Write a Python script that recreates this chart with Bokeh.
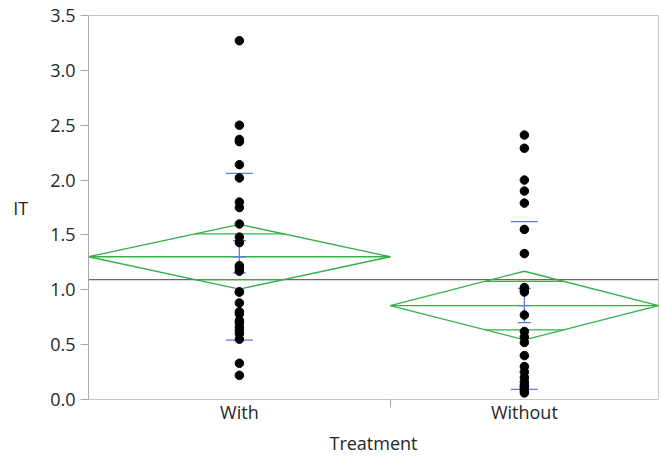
import math

import numpy as np
from bokeh.embed import file_html
from bokeh.models import FixedTicker, PrintfTickFormatter, Range1d
from bokeh.plotting import figure
from bokeh.resources import INLINE

# IT measurements per treatment group
treatments = ["With", "Without"]
it_with = [3.27, 2.50, 2.37, 2.35, 2.14, 2.02, 1.80, 1.75, 1.60, 1.48, 1.43, 1.22, 1.20, 1.17,
           0.98, 0.98, 0.88, 0.80, 0.78, 0.72, 0.70, 0.66, 0.63, 0.60, 0.55, 0.33, 0.22]
it_without = [2.41, 2.29, 2.00, 1.90, 1.79, 1.55, 1.33, 1.02, 1.00, 0.98, 0.77, 0.62, 0.57,
              0.52, 0.40, 0.30, 0.25, 0.20, 0.16, 0.13, 0.12, 0.10, 0.08, 0.06]
y_ticks = [0.0, 0.5, 1.0, 1.5, 2.0, 2.5, 3.0, 3.5]

FONT = "Open Sans"
FONT_SIZE = "18px"
TEXT = "#262626"
GREEN = "#34B04A"
BLUE = "#5B7FCF"
W, H = 662, 457
BORDER = dict(left=88, right=4, top=15, bottom=58)
FRAME_W = W - BORDER["left"] - BORDER["right"]


def t_quantile_975(df):
    """Two-sided 95% Student t critical value (Cornish-Fisher expansion)."""
    z = 1.959964
    g1 = (z**3 + z) / 4
    g2 = (5 * z**5 + 16 * z**3 + 3 * z) / 96
    g3 = (3 * z**7 + 19 * z**5 + 17 * z**3 - 15 * z) / 384
    return z + g1 / df + g2 / df**2 + g3 / df**3


groups = [np.asarray(it_with), np.asarray(it_without)]
counts = np.array([len(g) for g in groups])
total = counts.sum()

# x axis widths proportional to group size
edges = np.concatenate([[0], np.cumsum(counts)]).astype(float)
centers = (edges[:-1] + edges[1:]) / 2

means = np.array([g.mean() for g in groups])
sds = np.array([g.std(ddof=1) for g in groups])
ses = sds / np.sqrt(counts)
df = total - len(groups)
pooled_sd = math.sqrt(sum((n - 1) * s**2 for n, s in zip(counts, sds)) / df)
ci = t_quantile_975(df) * pooled_sd / np.sqrt(counts)
grand_mean = np.concatenate(groups).mean()

px = total / FRAME_W  # data units per screen pixel along x

p = figure(width=W, height=H, x_range=Range1d(0, total), y_range=Range1d(0, 3.5),
           output_backend="svg", toolbar_location=None,
           min_border_left=BORDER["left"], min_border_right=BORDER["right"],
           min_border_top=BORDER["top"], min_border_bottom=BORDER["bottom"],
           background_fill_color="white", border_fill_color="white")
p.outline_line_color = "#C6C6C6"
p.xgrid.visible = False
p.ygrid.visible = False

# grand mean reference line
p.line([0, total], [grand_mean, grand_mean], line_color="#444444", line_width=1)

# means diamonds: mean line, 95% CI diamond, overlap marks
dia_xs, dia_ys = [], []
seg = dict(x0=[], y0=[], x1=[], y1=[])
for lo, hi, c, m, h in zip(edges[:-1], edges[1:], centers, means, ci):
    dia_xs.append([lo, c, hi, c, lo])
    dia_ys.append([m, m + h, m, m - h, m])
    seg["x0"].append(lo); seg["x1"].append(hi); seg["y0"].append(m); seg["y1"].append(m)
    hw = (hi - lo) / 2 * (1 - 1 / math.sqrt(2))
    d = h / math.sqrt(2)
    for yy in (m + d, m - d):
        seg["x0"].append(c - hw); seg["x1"].append(c + hw)
        seg["y0"].append(yy); seg["y1"].append(yy)
p.multi_line(dia_xs, dia_ys, line_color=GREEN, line_width=1.3)
p.segment(line_color=GREEN, line_width=1.3, **seg)

# std dev lines and mean error bars
sd_hw = 13.5 * px
cap_hw = 6.5 * px
blue = dict(x0=[], y0=[], x1=[], y1=[])
for c, m, s, e in zip(centers, means, sds, ses):
    for yy, hw in ((m + s, sd_hw), (m - s, sd_hw), (m + e, cap_hw), (m - e, cap_hw), (m, cap_hw)):
        blue["x0"].append(c - hw); blue["x1"].append(c + hw)
        blue["y0"].append(yy); blue["y1"].append(yy)
    blue["x0"].append(c); blue["x1"].append(c)
    blue["y0"].append(m - e); blue["y1"].append(m + e)
p.segment(line_color=BLUE, line_width=1.3, **blue)

# individual observations
pts_x = np.concatenate([np.full(n, c) for n, c in zip(counts, centers)])
pts_y = np.concatenate(groups)
p.scatter(pts_x, pts_y, size=8.5, fill_color="black", line_color="black")

# axes
p.xaxis.ticker = FixedTicker(ticks=list(centers), minor_ticks=list(edges[1:-1]))
p.xaxis.major_label_overrides = {float(c): name for c, name in zip(centers, treatments)}
p.xaxis.major_tick_out = 0
p.xaxis.major_tick_in = 0
p.xaxis.minor_tick_out = 8
p.xaxis.minor_tick_in = 0
p.xaxis.minor_tick_line_color = "#A8A8A8"
p.xaxis.axis_line_color = "#C6C6C6"
p.xaxis.major_label_standoff = -8
p.xaxis.axis_label = "Treatment"
p.xaxis.axis_label_standoff = 4

p.yaxis.ticker = FixedTicker(ticks=y_ticks, minor_ticks=[])
p.yaxis.formatter = PrintfTickFormatter(format="%.1f")
p.yaxis.major_tick_out = 8
p.yaxis.major_tick_in = 0
p.yaxis.minor_tick_out = 0
p.yaxis.minor_tick_in = 0
p.yaxis.major_tick_line_color = "#A8A8A8"
p.yaxis.axis_line_color = "#A8A8A8"
p.yaxis.major_label_standoff = 5
p.yaxis.axis_label = "IT"
p.yaxis.axis_label_orientation = "horizontal"
p.yaxis.axis_label_standoff = 19

for ax in (p.xaxis[0], p.yaxis[0]):
    ax.major_label_text_font = FONT
    ax.major_label_text_font_size = FONT_SIZE
    ax.major_label_text_color = TEXT
    ax.axis_label_text_font = FONT
    ax.axis_label_text_font_size = FONT_SIZE
    ax.axis_label_text_font_style = "normal"
    ax.axis_label_text_color = TEXT

open("out.html", "w").write(file_html(p, INLINE))
